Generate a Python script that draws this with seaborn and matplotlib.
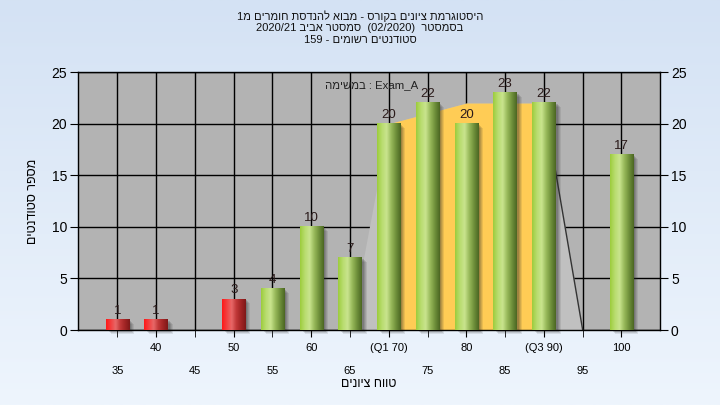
import re
import numpy as np
import matplotlib
matplotlib.use("Agg")
import matplotlib.pyplot as plt
import matplotlib.transforms as mtransforms
from matplotlib.colors import LinearSegmentedColormap
from matplotlib.patches import Rectangle
import seaborn as sb

# --- data ---
grades = [35, 40, 45, 50, 55, 60, 65, 70, 75, 80, 85, 90, 95, 100]
counts = [1, 1, 0, 3, 4, 10, 7, 20, 22, 20, 23, 22, 0, 17]
tick_labels = ['35', '40', '45', '50', '55', '60', '65', '(Q1 70)',
               '75', '80', '85', '(Q3 90)', '95', '100']
pass_grade = 55

# outline of the distribution drawn behind the bars
curve_grades = [65, 70, 75, 80, 85, 90, 95]
curve_values = [0, 20, 21, 22, 22, 22, 0]
q1, q3 = 70, 90

title = ("היסטוגרמת ציונים בקורס - מבוא להנדסת חומרים מ1\n"
         "בסמסטר  (02/2020)  סמסטר אביב 2020/21\n"
         "סטודנטים רשומים - 159")
note = "Exam_A : במשימה"
xlabel = "טווח ציונים"
ylabel = "מספר סטודנטים"


def rtl(s):
    # matplotlib has no bidi support: lay hebrew lines out right-to-left by hand
    lines = []
    for line in s.split('\n'):
        r = line[::-1].translate(str.maketrans('()', ')('))
        r = re.sub(r'[0-9A-Za-z_/.]+', lambda m: m.group(0)[::-1], r)
        lines.append(r)
    return '\n'.join(lines)


plt.rcParams['font.family'] = ['Liberation Sans', 'DejaVu Sans']

fig = plt.figure(figsize=(7.2, 4.05), dpi=100)

# light blue background gradient
bg = fig.add_axes([0, 0, 1, 1], zorder=-10)
bg_cmap = LinearSegmentedColormap.from_list('bg', ['#d4e2f4', '#eef5fd'])
bg.imshow(np.linspace(0, 1, 256).reshape(-1, 1), cmap=bg_cmap, aspect='auto',
          extent=[0, 1, 0, 1])
bg.set_axis_off()

ax = fig.add_axes([0.1085, 0.185, 0.808, 0.637])
ax.set_facecolor('#b3b3b3')

bar_colors = ['#e02020' if g < pass_grade else '#8fbf3a' for g in grades]
sb.barplot(x=[str(g) for g in grades], y=counts, hue=[str(g) for g in grades],
           palette=bar_colors, legend=False, width=0.6, ax=ax, zorder=3)
bars = list(ax.patches)

# distribution area: light gray under the whole curve, yellow between Q1 and Q3
pos = [grades.index(g) for g in curve_grades]
ax.fill_between(pos, curve_values, color='#c0c0c0', zorder=1, lw=0)
inner = [i for i, g in enumerate(curve_grades) if q1 <= g <= q3]
ax.fill_between([pos[i] for i in inner], [curve_values[i] for i in inner],
                color='#ffcc55', zorder=1.5, lw=0)
ax.plot(pos[-2:], curve_values[-2:], color='#333333', lw=1, zorder=1.6)

# cylinder look + drop shadow for each bar
green = LinearSegmentedColormap.from_list(
    'g', ['#9ccc3c', '#b8dc6e', '#c9e48e', '#98b95a', '#6e8f3a', '#4b6622'])
red = LinearSegmentedColormap.from_list(
    'r', ['#ff1818', '#f24040', '#e86868', '#c03838', '#a02424', '#7e1818'])
grad = np.linspace(0, 1, 128).reshape(1, -1)
for p in bars:
    h = p.get_height()
    if h == 0:
        continue
    x0, w = p.get_x(), p.get_width()
    g = grades[int(round(x0 + w / 2))]
    for k, a in enumerate([0.10, 0.12, 0.14, 0.18]):
        off = mtransforms.ScaledTranslation((5 - k) / 100, -(4 - k) / 100,
                                            fig.dpi_scale_trans)
        sh = Rectangle((x0, 0), w, h, color='#2a2a2a', alpha=a, lw=0,
                       transform=ax.transData + off, zorder=2, clip_on=False)
        ax.add_patch(sh)
    ax.imshow(grad, cmap=red if g < pass_grade else green, aspect='auto',
              extent=[x0, x0 + w, 0, h], zorder=3.5, interpolation='bilinear')
    p.set_facecolor('none')
    ax.annotate(str(int(h)), (x0 + w / 2, h), xytext=(0, 2),
                textcoords='offset points', ha='center', va='bottom',
                fontsize=9.5, color='#2a1a1a', zorder=5)

ax.set_xlim(-1.01, 13.99)
ax.set_ylim(0, 25)
ax.set_yticks(range(0, 26, 5))
ax.grid(True, color='black', lw=1)
ax.set_axisbelow(True)

# staggered x labels: odd positions on top row, even positions on the lower row
ax.set_xticks(range(1, len(grades), 2))
ax.set_xticklabels(tick_labels[1::2])
ax.set_xticks(range(0, len(grades), 2), minor=True)
ax.set_xticklabels(tick_labels[0::2], minor=True)
ax.tick_params(axis='x', which='both', length=5, color='black', labelsize=8)
ax.tick_params(axis='x', which='major', pad=4)
ax.tick_params(axis='x', which='minor', pad=21)
ax.xaxis.grid(True, which='minor', color='black', lw=1)
ax.tick_params(axis='y', left=True, right=True, labelleft=True, labelright=True,
               length=6, labelsize=10, pad=2)
for s in ax.spines.values():
    s.set_color('black')
    s.set_linewidth(1)

ax.set_xlabel(rtl(xlabel), fontsize=9, labelpad=1)
ax.set_ylabel(rtl(ylabel), fontsize=9, labelpad=9)
ax.text(0.424, 0.95, rtl(note), transform=ax.transAxes, fontsize=8.2,
        va='center', ha='left', color='#222222', zorder=6)

fig.text(0.5, 0.975, rtl(title), ha='center', va='top', fontsize=8,
         linespacing=1.22, color='#111111')

fig.savefig('out.png', dpi=100)
